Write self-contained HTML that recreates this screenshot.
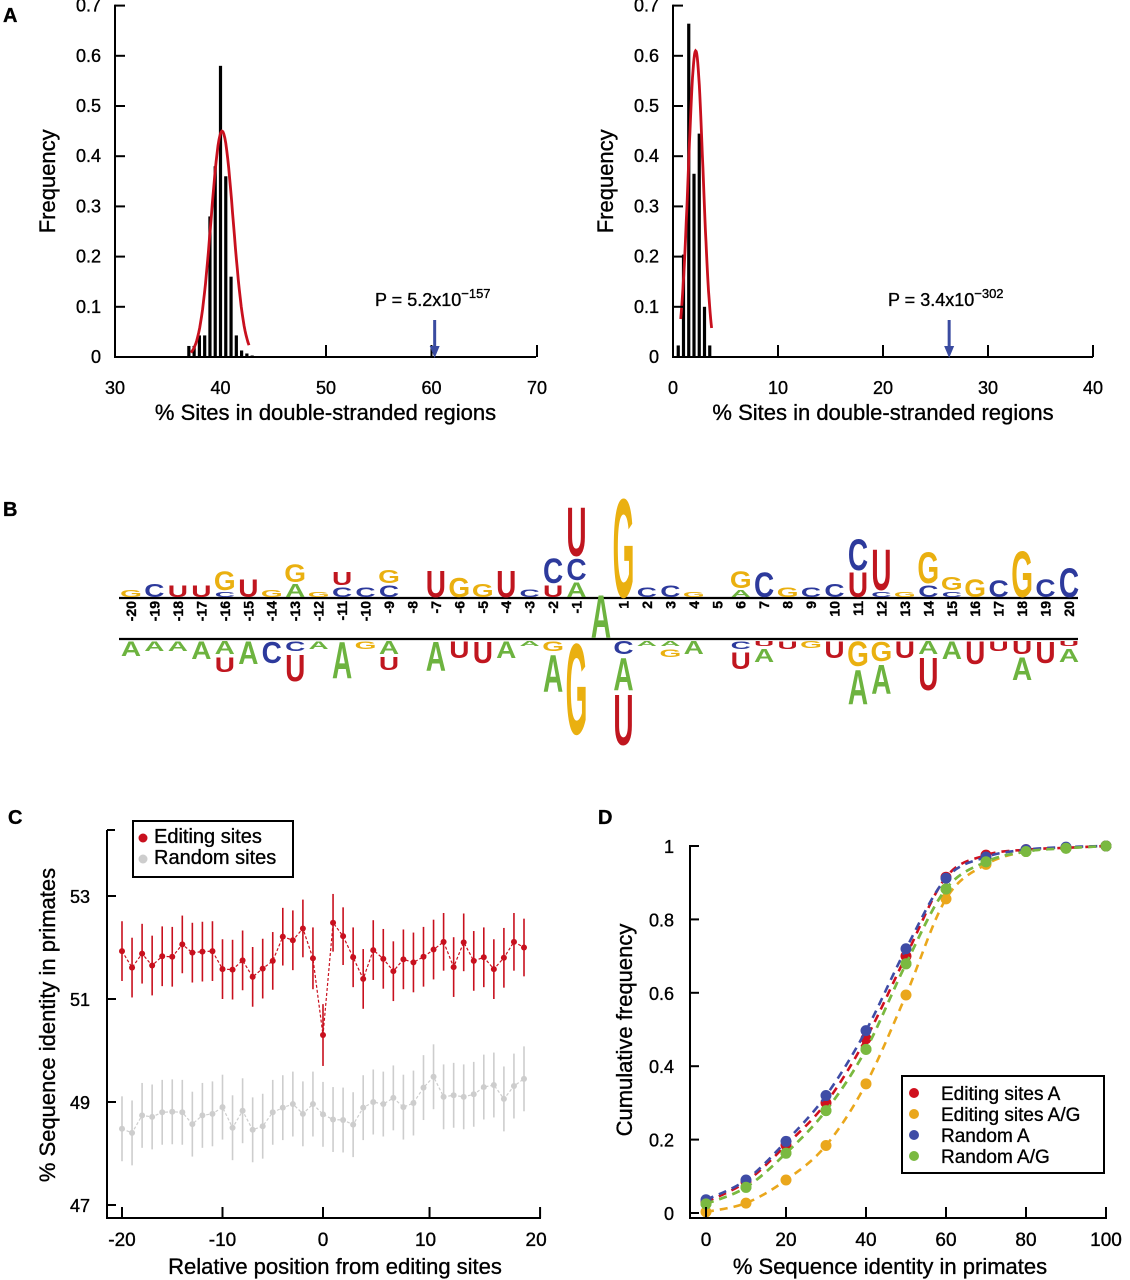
<!DOCTYPE html>
<html><head><meta charset="utf-8">
<style>
html,body{margin:0;padding:0;background:#fff;}
svg{display:block;font-family:"Liberation Sans",Arial,sans-serif;}
text.lbl{stroke:#000;stroke-width:0.35px;}
</style></head>
<body>
<svg id="fig" width="1130" height="1280" viewBox="0 0 1130 1280" xmlns="http://www.w3.org/2000/svg"></svg>
<script>
// ---------- Panel A data ----------
const histLeftBins = [37,37.5,38,38.5,39,39.5,40,40.5,41,41.5,42,42.5,43];
const histLeftFreq = [0.022,0.022,0.043,0.043,0.28,0.38,0.58,0.36,0.16,0.043,0.013,0.007,0.003];
const fitLeft = {mu:40.15, sd:1.05, peak:0.45, from:37.2, to:42.7};
const histRightBins = [0.5,1,1.5,2,2.5,3,3.5];
const histRightFreq = [0.023,0.204,0.664,0.365,0.445,0.1,0.023];
const fitRight = {mu:2.16, sd:0.7, peak:0.61, from:0.73, to:3.68};
const obsLeft = 60.3, obsRight = 26.3;
const aYTicks = [0,0.1,0.2,0.3,0.4,0.5,0.6,0.7];
const aLeftXTicks = [30,40,50,60,70];
const aRightXTicks = [0,10,20,30,40];
// ---------- Panel B data (stacks from line outward: [letter, height px]) ----------
const logoPositions = [-20,-19,-18,-17,-16,-15,-14,-13,-12,-11,-10,-9,-8,-7,-6,-5,-4,-3,-2,-1,1,2,3,4,5,6,7,8,9,10,11,12,13,14,15,16,17,18,19,20];
const logoTop = [
 [["G",7]],[["C",13]],[["U",12]],[["U",12]],[["C",5],["G",19]],[["U",18]],[["G",7]],[["A",13],["G",18]],[["G",5]],[["C",10],["U",13]],
 [["C",10]],[["C",12],["G",13]],[],[["U",27]],[["G",20]],[["G",13]],[["U",27]],[["C",8]],[["U",12],["C",25]],[["A",15],["C",22],["U",50]],
 [["G",101]],[["C",10]],[["C",12]],[["G",5]],[],[["A",7],["G",17]],[["C",25]],[["G",10]],[["C",10]],[["C",13]],
 [["U",25],["C",32]],[["C",5],["U",42]],[["G",5]],[["C",12],["G",32]],[["C",5],["G",13]],[["G",18]],[["C",17]],[["G",47]],[["C",18]],[["C",30]]
];
const logoBottom = [
 [["A",15]],[["A",10]],[["A",10]],[["A",18]],[["A",13],["U",15]],[["A",23]],[["C",22]],[["C",10],["U",27]],[["A",8]],[["A",37]],
 [["G",8]],[["A",13],["U",13]],[],[["A",30]],[["U",17]],[["U",22]],[["A",17]],[["A",5]],[["G",10],["A",38]],[["G",93]],
 [["C",13],["A",33],["U",52]],[["A",5]],[["A",5],["G",8]],[["A",13]],[],[["C",8],["U",17]],[["U",5],["A",13]],[["U",8]],[["G",7]],[["U",17]],
 [["G",25],["A",35]],[["G",20],["A",30]],[["U",17]],[["A",13],["U",33]],[["A",18]],[["U",23]],[["U",10]],[["U",13],["A",23]],[["U",22]],[["U",5],["A",13]]
];
// ---------- Panel C data ----------
const cPositions = [-20,-19,-18,-17,-16,-15,-14,-13,-12,-11,-10,-9,-8,-7,-6,-5,-4,-3,-2,-1,0,1,2,3,4,5,6,7,8,9,10,11,12,13,14,15,16,17,18,19,20];
const editingMean = [51.93,51.61,51.88,51.65,51.83,51.82,52.06,51.90,51.92,51.93,51.58,51.57,51.75,51.43,51.59,51.74,52.21,52.14,52.37,51.79,50.30,52.48,52.22,51.81,51.39,51.95,51.78,51.54,51.77,51.71,51.82,51.96,52.11,51.62,52.10,51.74,51.81,51.58,51.80,52.11,52.00];
const editingErr = [0.58,0.58,0.58,0.58,0.58,0.58,0.56,0.58,0.58,0.58,0.58,0.58,0.58,0.58,0.58,0.56,0.56,0.58,0.56,0.6,0.6,0.56,0.56,0.58,0.58,0.58,0.58,0.58,0.58,0.58,0.58,0.58,0.56,0.58,0.56,0.58,0.58,0.58,0.58,0.56,0.56];
const randomMean = [48.48,48.40,48.74,48.71,48.80,48.81,48.80,48.57,48.74,48.77,48.90,48.50,48.83,48.46,48.53,48.80,48.89,48.96,48.77,48.96,48.76,48.66,48.65,48.56,48.89,49.00,48.96,49.08,48.90,48.98,49.28,49.49,49.10,49.13,49.10,49.15,49.29,49.33,49.06,49.31,49.45];
const randomErr = [0.63,0.63,0.63,0.63,0.63,0.63,0.63,0.63,0.63,0.63,0.63,0.63,0.63,0.63,0.63,0.63,0.63,0.63,0.63,0.63,0.63,0.63,0.63,0.63,0.63,0.63,0.63,0.63,0.63,0.63,0.63,0.63,0.63,0.63,0.63,0.63,0.63,0.63,0.63,0.63,0.63];
const cYTicks = [47,49,51,53];
const cXTicks = [-20,-10,0,10,20];
const cXTickAt = [-20,-10,0,10.6,21.6];
// ---------- Panel D data ----------
const dIdentity = [0,10,20,30,40,50,60,70,80,90,100];
const editingA  = [0.03,0.085,0.185,0.30,0.475,0.70,0.915,0.975,0.99,0.995,1];
const editingAG = [0.003,0.027,0.09,0.184,0.352,0.594,0.856,0.95,0.985,0.995,1];
const randomA   = [0.036,0.09,0.195,0.32,0.497,0.72,0.912,0.97,0.99,0.997,1];
const randomAG  = [0.025,0.07,0.163,0.279,0.446,0.679,0.883,0.957,0.985,0.994,1];
const dYTicks = [0,0.2,0.4,0.6,0.8,1];
const dYLabels = ["0","0.2","0.4","0.6","0.8","1"];
const dXTicks = [0,20,40,60,80,100];

const NS = "http://www.w3.org/2000/svg";
const svg = document.getElementById("fig");
function mk(tag, attrs, parent, text){
  const e = document.createElementNS(NS, tag);
  for (const k in attrs) e.setAttribute(k, attrs[k]);
  if (text !== undefined) e.textContent = text;
  (parent || svg).appendChild(e);
  return e;
}
function grp(name, parent){
  const g = mk("g", {}, parent);
  
  
  return g;
}
function line(p, x1,y1,x2,y2, stroke, w, name){
  const l = mk("line",{x1:x1,y1:y1,x2:x2,y2:y2,stroke:stroke,"stroke-width":w},p);
  
  
  return l;
}
function txt(p, x,y, s, size, anchor, name, extra){
  const t = mk("text",Object.assign({x:x,y:y,"font-size":size,"text-anchor":anchor||"start",fill:"#000","class":"lbl"}, extra||{}),p,s);
  
  
  return t;
}
function panelLabel(x,y,s){ txt(svg,x,y,s,20,"start","panel-label-"+s.toLowerCase(),{"font-weight":"bold"}); }

// ================= Panel A =================
function histPanel(opt){
  const g = grp(opt.name);
  const x = v => opt.x0 + (v - opt.xmin) * opt.xs;
  const y = v => opt.y0 - v * opt.ys;
  opt.bins.forEach((b,i)=>{
    const r = mk("rect",{x:x(b)-1.6,y:y(opt.freq[i]),width:3.2,height:opt.freq[i]*opt.ys,fill:"#000"},g);
    
    
  });
  let d="";
  for(let k=0;k<=60;k++){
    const v = opt.fit.from + (opt.fit.to-opt.fit.from)*k/60;
    const f = opt.fit.peak*Math.exp(-Math.pow(v-opt.fit.mu,2)/(2*opt.fit.sd*opt.fit.sd));
    d += (k?"L":"M")+x(v).toFixed(1)+","+y(f).toFixed(1);
  }
  const c = mk("path",{d:d,fill:"none",stroke:"#c8101e","stroke-width":2.8},g);
  
  
  line(g, opt.x0, opt.y0, opt.x0, opt.y0-0.7*opt.ys-1, "#000", 2, "y-axis");
  line(g, opt.x0-1, opt.y0, opt.xEnd, opt.y0, "#000", 2, "x-axis");
  aYTicks.forEach(t=>{
    line(g, opt.x0, y(t), opt.x0+10, y(t), "#000", 2, "y-tick");
    txt(g, opt.x0-14, y(t)+6, t===0?"0":t.toFixed(1), 18, "end", "y-tick-label");
  });
  opt.xticks.forEach(t=>{
    if (t!==opt.xmin) line(g, x(t), opt.y0, x(t), opt.y0-12, "#000", 2, "x-tick");
    txt(g, x(t), opt.y0+37, String(t), 18, "middle", "x-tick-label");
  });
  txt(g, 0,0,"Frequency",22,"middle","y-axis-title",{transform:`translate(${opt.x0-60},${opt.y0-0.35*opt.ys}) rotate(-90)`});
  txt(g, (opt.x0+opt.xEnd)/2, 420, "% Sites in double-stranded regions", 22, "middle", "x-axis-title");
  const ax = x(opt.obs);
  line(g, ax, 320, ax, 348, "#3a4ba0", 3, "observed-arrow-shaft");
  const ah = mk("polygon",{points:`${ax-5},346 ${ax+5},346 ${ax},358`,fill:"#3a4ba0"},g);
  
  
  const pt = txt(g, opt.pX, 306, "", 18, "start", "p-value-label");
  mk("tspan",{},pt,opt.pText);
  mk("tspan",{dy:-8,"font-size":13},pt,opt.pExp);
}
panelLabel(3,22,"A");
histPanel({name:"panel-a-left",x0:115,y0:357,xmin:30,xs:10.55,ys:502,xEnd:536,bins:histLeftBins,freq:histLeftFreq,fit:fitLeft,xticks:aLeftXTicks,obs:obsLeft,pX:375,pText:"P = 5.2x10",pExp:"\u2212157"});
histPanel({name:"panel-a-right",x0:673,y0:357,xmin:0,xs:10.5,ys:502,xEnd:1093,bins:histRightBins,freq:histRightFreq,fit:fitRight,xticks:aRightXTicks,obs:obsRight,pX:888,pText:"P = 3.4x10",pExp:"\u2212302"});

// ================= Panel B =================
panelLabel(3,516,"B");
const colors = {G:"#eab010",C:"#2d3a9c",U:"#c0161f",A:"#6db33f"};
const gB = grp("panel-b-sequence-logo");
const topY = 598, botY = 639;
const bx = p => 600 + p*23.45;
line(gB, 119, topY, 1078, topY, "#000", 2.2, "logo-top-line");
line(gB, 119, botY, 1078, botY, "#000", 2.2, "logo-bottom-line");
function letter(ch, cx, baseY, h){
  const t = mk("text",{x:0,y:0,"font-size":100,"font-weight":"bold","text-anchor":"middle",fill:colors[ch],
    transform:`translate(${cx.toFixed(1)},${baseY.toFixed(1)}) scale(0.28,${(h/71.6).toFixed(3)})`},gB,ch);
  
  
}
logoPositions.forEach((p,i)=>{
  const cx = bx(p);
  let yb = topY - 1;
  logoTop[i].forEach(([ch,h])=>{ letter(ch,cx,yb,h); yb -= h+2; });
  let yt = botY + 2;
  logoBottom[i].forEach(([ch,h])=>{ letter(ch,cx,yt+h,h); yt += h+3; });
  txt(gB,0,0,String(p),14,"end","logo-position-label",{"font-weight":"bold",transform:`translate(${(cx+5).toFixed(1)},${topY+3}) rotate(-90)`});
});
letter("A", 601, 638, 44);

// ================= Panel C =================
panelLabel(8,824,"C");
const gC = grp("panel-c-identity-chart");
const cx = v => 323 + v*10.05;
const cy = v => 999 - (v-51)*51.5;
function series(vals, errs, color, name, w){
  const g = grp(name, gC);
  let d="";
  cPositions.forEach((p,i)=>{ d += (i?"L":"M")+cx(p).toFixed(1)+","+cy(vals[i]).toFixed(1); });
  const pl = mk("path",{d:d,fill:"none",stroke:color,"stroke-width":1.2,"stroke-dasharray":"3,2"},g);
  
  
  cPositions.forEach((p,i)=>{
    line(g, cx(p), cy(vals[i]+errs[i]), cx(p), cy(vals[i]-errs[i]), color, w, "error-bar");
    const c = mk("circle",{cx:cx(p),cy:cy(vals[i]),r:3,fill:color},g);
    
    
  });
}
series(randomMean, randomErr, "#cdcdcd", "random-sites-series", 1.6);
series(editingMean, editingErr, "#c8101e", "editing-sites-series", 1.6);
line(gC, 107, 830, 107, 1219, "#000", 2, "y-axis");
line(gC, 107, 830, 115, 830, "#000", 2, "y-axis-cap");
line(gC, 106, 1218, 541, 1218, "#000", 2, "x-axis");
cYTicks.forEach(t=>{
  line(gC, 107, cy(t), 116, cy(t), "#000", 2, "y-tick");
  txt(gC, 90, cy(t)+7, String(t), 18, "end", "y-tick-label");
});
cXTicks.forEach((t,i)=>{
  const xp = cx(cXTickAt[i]);
  line(gC, xp, 1218, xp, 1207, "#000", 2, "x-tick");
  txt(gC, xp-(t>0?4:0), 1246, String(t), 19, "middle", "x-tick-label");
});
txt(gC,0,0,"% Sequence identity in primates",22,"middle","y-axis-title",{transform:"translate(55,1025) rotate(-90)"});
txt(gC, 335, 1274, "Relative position from editing sites", 22, "middle", "x-axis-title");
const legC = grp("legend-c", gC);
const lc = mk("rect",{x:133,y:821,width:160,height:56,fill:"#fff",stroke:"#000","stroke-width":2},legC);


[["Editing sites","#c8101e",836],["Random sites","#cdcdcd",857]].forEach(([s,c,yy])=>{
  const d = mk("circle",{cx:143,cy:yy+2,r:4.5,fill:c},legC);
  
  
  txt(legC,154,yy+7,s,20,"start","legend-entry");
});

// ================= Panel D =================
panelLabel(598,824,"D");
const gD = grp("panel-d-cumulative-chart");
const dx = v => 706 + v*4.0;
const dy = v => 1213 - v*367;
function dseries(vals, color, name){
  const g = grp(name, gD);
  const pts = dIdentity.map((v,i)=>[dx(v), dy(vals[i])]);
  let d = "M"+pts[0][0]+","+pts[0][1];
  for(let i=0;i<pts.length-1;i++){
    const p0=pts[Math.max(0,i-1)],p1=pts[i],p2=pts[i+1],p3=pts[Math.min(pts.length-1,i+2)];
    d += `C${(p1[0]+(p2[0]-p0[0])/6).toFixed(1)},${(p1[1]+(p2[1]-p0[1])/6).toFixed(1)} ${(p2[0]-(p3[0]-p1[0])/6).toFixed(1)},${(p2[1]-(p3[1]-p1[1])/6).toFixed(1)} ${p2[0].toFixed(1)},${p2[1].toFixed(1)}`;
  }
  const pl = mk("path",{d:d,fill:"none",stroke:color,"stroke-width":2.6,"stroke-dasharray":"8,6"},g);
  
  
  pts.forEach(p=>{
    const c = mk("circle",{cx:p[0],cy:p[1],r:5.5,fill:color},g);
    
    
  });
}
dseries(editingAG, "#eaa71c", "editing-sites-ag-series");
dseries(randomAG, "#7ab940", "random-ag-series");
dseries(editingA, "#d0101e", "editing-sites-a-series");
dseries(randomA, "#3f4ca6", "random-a-series");
dseries(randomAG, "#7ab940", "random-ag-series-top");
line(gD, 690, 845, 690, 1219, "#000", 2, "y-axis");
line(gD, 689, 1218, 1107, 1218, "#000", 2, "x-axis");
dYTicks.forEach((t,i)=>{
  line(gD, 690, dy(t), 699, dy(t), "#000", 2, "y-tick");
  txt(gD, 674, dy(t)+7, dYLabels[i], 18, "end", "y-tick-label");
});
dXTicks.forEach(t=>{
  line(gD, dx(t), 1218, dx(t), 1207, "#000", 2, "x-tick");
  txt(gD, dx(t), 1246, String(t), 19, "middle", "x-tick-label");
});
txt(gD,0,0,"Cumulative frequency",22,"middle","y-axis-title",{transform:"translate(632,1030) rotate(-90)"});
txt(gD, 890, 1274, "% Sequence identity in primates", 22, "middle", "x-axis-title");
const legD = grp("legend-d", gD);
const ld = mk("rect",{x:902,y:1076,width:202,height:97,fill:"#fff",stroke:"#000","stroke-width":2},legD);


[["Editing sites A","#d0101e",1093],["Editing sites A/G","#eaa71c",1114],["Random A","#3f4ca6",1135],["Random A/G","#7ab940",1156]].forEach(([s,c,yy])=>{
  const d = mk("circle",{cx:914,cy:yy,r:5,fill:c},legD);
  
  
  txt(legD,941,yy+7,s,19,"start","legend-entry");
});
</script>
</body></html>
